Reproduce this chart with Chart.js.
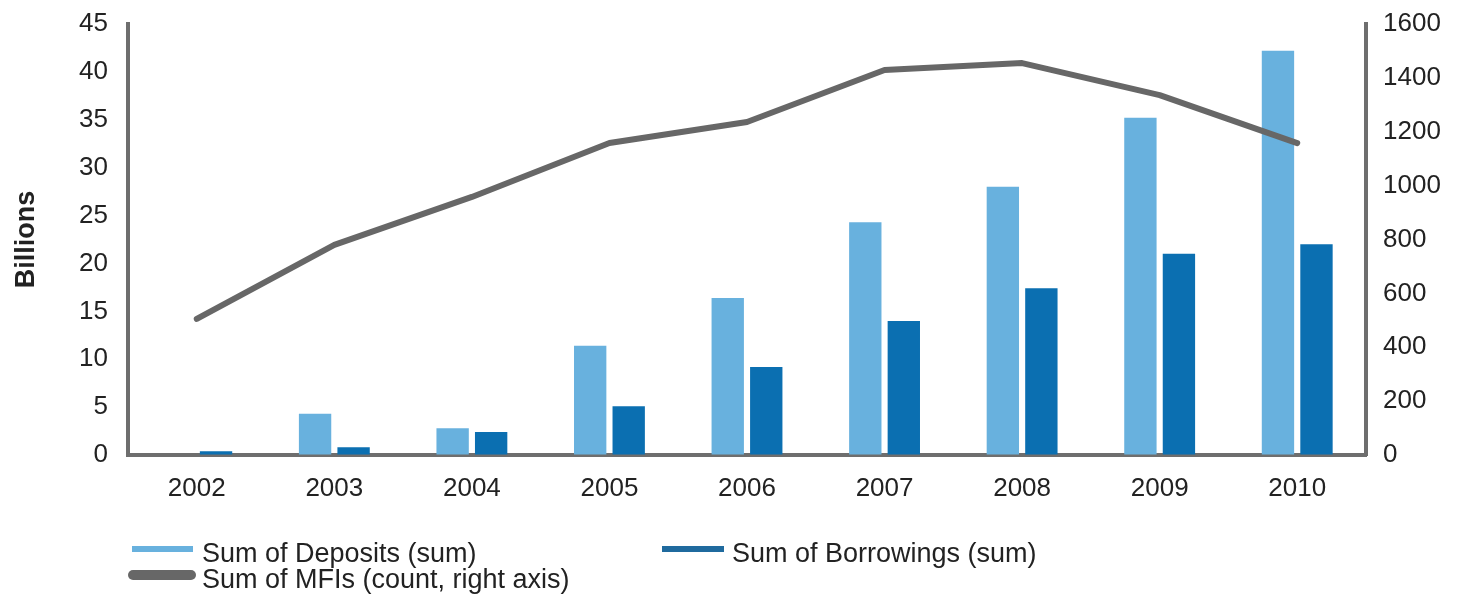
<!DOCTYPE html>
<html>
<head>
<meta charset="utf-8">
<script src="https://cdn.jsdelivr.net/npm/chart.js@4"></script>
<style>
  html, body { margin: 0; padding: 0; background: #fff; }
  #wrap { position: relative; width: 1464px; height: 605px; overflow: hidden; }
  canvas { position: absolute; left: 0; top: 0; }
  .lg { position: absolute; font-family: "Liberation Sans", Arial, sans-serif; font-size: 27px; color: #222; white-space: nowrap; line-height: 1; }
  .sw { position: absolute; }
</style>
</head>
<body>
<div id="wrap">
  <canvas id="c" width="1464" height="605"></canvas>
  <div id="legend"></div>
</div>
<script>
const categories = ["2002","2003","2004","2005","2006","2007","2008","2009","2010"];
const deposits   = [0, 4.3, 2.8, 11.4, 16.4, 24.3, 28.0, 35.2, 42.2];
const borrowings = [0.4, 0.8, 2.4, 5.1, 9.2, 14.0, 17.4, 21.0, 22.0];
const mfis       = [505, 780, 958, 1158, 1236, 1429, 1455, 1336, 1158];
const seriesNames = ["Sum of Deposits (sum)", "Sum of Borrowings (sum)", "Sum of MFIs (count, right axis)"];
const leftTitle = "Billions";

const cDep = "#68b1de", cBor = "#0b6fb1", cLine = "#676767", cAxis = "#6e6e6e";
const FONT = "'Liberation Sans', Arial, sans-serif";

// legend (HTML)
const legend = document.getElementById('legend');
function addLegend(swLeft, swTop, swW, swH, color, radius, txtLeft, txtTop, text) {
  const s = document.createElement('div');
  s.className = 'sw';
  s.style.left = swLeft + 'px'; s.style.top = swTop + 'px';
  s.style.width = swW + 'px'; s.style.height = swH + 'px';
  s.style.background = color; s.style.borderRadius = radius + 'px';
  legend.appendChild(s);
  const t = document.createElement('div');
  t.className = 'lg';
  t.style.left = txtLeft + 'px'; t.style.top = txtTop + 'px';
  t.textContent = text;
  legend.appendChild(t);
}
addLegend(132, 546, 61, 6, cDep, 0, 202, 540, seriesNames[0]);
addLegend(662, 546, 62, 6, "#1f6a9e", 0, 732, 540, seriesNames[1]);
addLegend(128, 570, 68, 10, cLine, 5, 202, 566, seriesNames[2]);

function fitY(w) {
  return s => { s.width = w; s.paddingTop = 0; s.paddingBottom = 0; };
}

new Chart(document.getElementById('c'), {
  data: {
    labels: categories,
    datasets: [
      { type: 'line', label: seriesNames[2], data: mfis, yAxisID: 'y1', borderColor: cLine,
        borderWidth: 6, pointRadius: 0, tension: 0, order: 0, borderCapStyle: 'round', borderJoinStyle: 'round' },
      { type: 'bar', label: seriesNames[0], data: deposits, yAxisID: 'y', backgroundColor: cDep,
        categoryPercentage: 0.56, barPercentage: 0.84, order: 1 },
      { type: 'bar', label: seriesNames[1], data: borrowings, yAxisID: 'y', backgroundColor: cBor,
        categoryPercentage: 0.56, barPercentage: 0.84, order: 1 }
    ]
  },
  options: {
    responsive: false,
    animation: false,
    devicePixelRatio: 1,
    layout: { padding: { top: 24, bottom: 80, left: 0, right: 0 } },
    plugins: { legend: { display: false }, tooltip: { enabled: false } },
    scales: {
      x: {
        grid: { display: true, drawOnChartArea: false, drawTicks: false },
        border: { display: true, color: cAxis, width: 4 },
        ticks: { color: '#222', font: { family: FONT, size: 26 }, padding: 18, maxRotation: 0 },
        afterFit: s => { s.height = 70; s.paddingLeft = 0; s.paddingRight = 0; }
      },
      y: {
        position: 'left', min: 0, max: 45,
        grid: { display: true, drawOnChartArea: false, drawTicks: false },
        border: { display: true, color: cAxis, width: 4 },
        ticks: { stepSize: 5, color: '#222', font: { family: FONT, size: 26 }, padding: 20 },
        title: { display: true, text: leftTitle, color: '#222', font: { family: FONT, size: 27, weight: 'bold' }, padding: { top: 10, bottom: 0 } },
        afterFit: fitY(128)
      },
      y1: {
        position: 'right', min: 0, max: 1600,
        grid: { display: true, drawOnChartArea: false, drawTicks: false },
        border: { display: true, color: cAxis, width: 4 },
        ticks: { stepSize: 200, color: '#222', font: { family: FONT, size: 26 }, padding: 17,
                 callback: v => String(v) },
        afterFit: fitY(98)
      }
    }
  }
});
</script>
</body>
</html>
